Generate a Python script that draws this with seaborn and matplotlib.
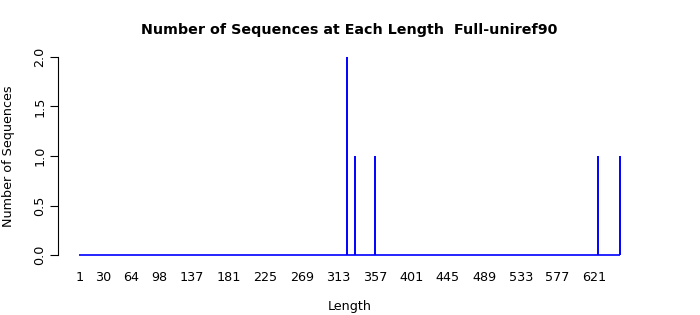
import matplotlib
matplotlib.use("Agg")
import matplotlib.pyplot as plt
import seaborn as sns
import numpy as np

# Data
peak_lengths = [324, 333, 357, 626, 652]
peak_counts = [2, 1, 1, 1, 1]
min_length = 1
max_length = 652
xtick_labels = [1, 30, 64, 98, 137, 181, 225, 269, 313, 357, 401, 445, 489, 533, 577, 621]
ytick_values = [0.0, 0.5, 1.0, 1.5, 2.0]

sns.set_theme(style="white")
plt.rcParams['font.family'] = ['DejaVu Sans']
plt.rcParams['text.color'] = 'black'
plt.rcParams['axes.labelcolor'] = 'black'
plt.rcParams['xtick.color'] = 'black'
plt.rcParams['ytick.color'] = 'black'

fig = plt.figure(figsize=(7, 3.15), dpi=100)
ax = fig.add_axes([57.5/700, 52/315, (641.5-57.5)/700, (263-49)/315])

ax.hlines(0, min_length, max_length, color="#0000ff", linewidth=1.2)
ax.vlines(peak_lengths, 0, peak_counts, color="#0000ff", linewidth=1.4)

span = max_length - min_length
ax.set_xlim(min_length - 0.04*span, max_length + 0.04*span)
ax.set_ylim(-0.08, 2.08)

ax.set_xticks(xtick_labels)
ax.set_xticklabels([str(v) for v in xtick_labels], fontsize=9.2, color='black')
ax.tick_params(axis='x', length=0, pad=6)

ax.set_yticks(ytick_values)
ax.set_yticklabels([f"{v:.1f}" for v in ytick_values], fontsize=9.2, rotation=90, va='center', color='black')
ax.tick_params(axis='y', length=6, width=0.8, color='black', left=True, pad=2)

for s in ['top', 'right', 'bottom']:
    ax.spines[s].set_visible(False)
ax.spines['left'].set_bounds(0, 2)
ax.spines['left'].set_color('black')
ax.spines['left'].set_linewidth(0.8)

ax.set_xlabel("Length", fontsize=9.2, labelpad=11, color='black')
ax.set_ylabel("Number of Sequences", fontsize=9.2, labelpad=13, color='black')
ax.set_title("Number of Sequences at Each Length  Full-uniref90", fontsize=10.25, fontweight='bold', pad=11, color='black')
ax.grid(False)

fig.savefig("out.png", dpi=100)
